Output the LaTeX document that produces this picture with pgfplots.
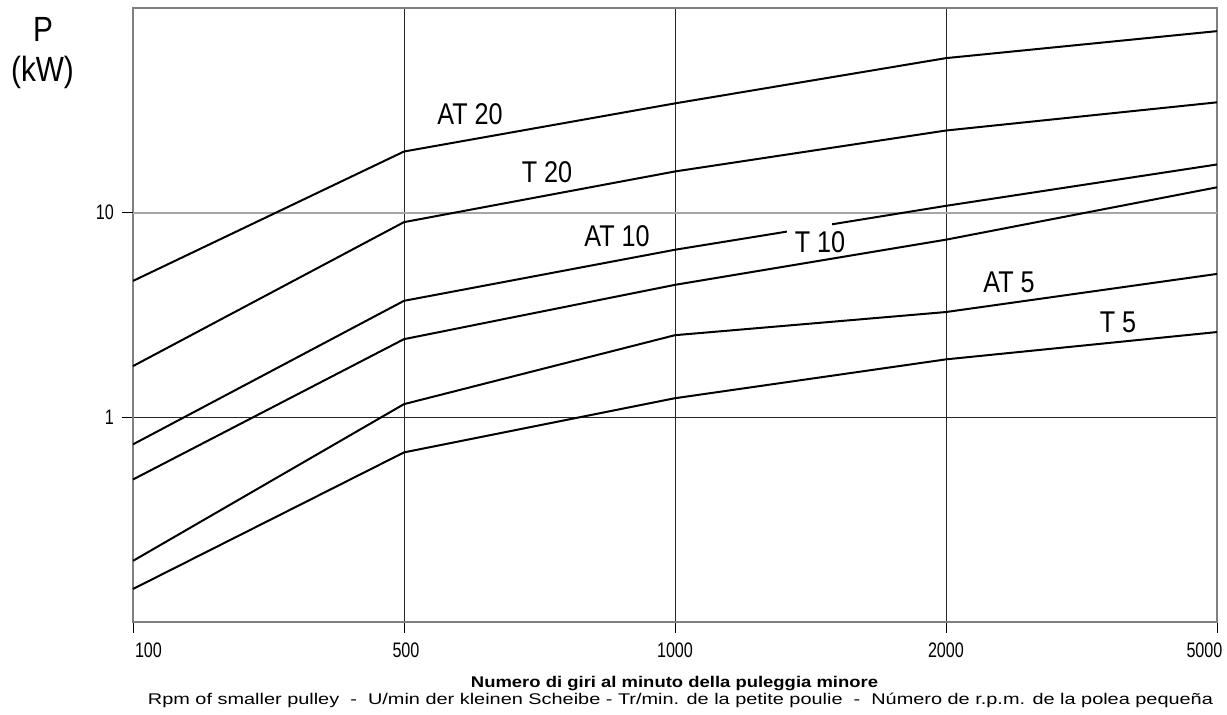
\documentclass[border=0pt]{standalone}
\usepackage{fontspec}
\setmainfont{Liberation Sans}
\usepackage{graphicx}
\usepackage{pgfplots}
\pgfplotsset{compat=1.18}
\newcommand\nar[1]{\scalebox{0.77}[1]{\fontsize{21}{21}\selectfont #1}}
\newcommand\lab[1]{\scalebox{0.84}[1]{\fontsize{30}{30}\selectfont #1}}
\begin{document}
\begin{tikzpicture}[x=1pt,y=1pt]
\useasboundingbox (-133,-93) rectangle (1094,622);
\begin{axis}[
  at={(0,0)}, anchor=south west,
  width=1084pt, height=614pt, scale only axis,
  xmin=0, xmax=4, ymin=0.1, ymax=100, ymode=log,
  xtick={0,1,2,3,4}, xticklabels={},
  ytick={1}, yticklabels={},
  extra y ticks={10}, extra y tick labels={},
  extra y tick style={grid style={gray!70, line width=2pt}},
  yminorticks=false, xminorticks=false,
  grid=major, grid style={black!85, line width=0.8pt},
  tick align=outside, major tick length=11pt,
  tick style={black, line width=0.8pt},
  tick pos=left,
  axis line style={gray, line width=1.5pt},
  clip=false,
]
\addplot[black, solid, line width=2pt, mark=none] coordinates {(0,4.64) (1,19.9) (2,34.2) (3,56.9) (4,77.1)};
\addplot[black, solid, line width=2pt, mark=none] coordinates {(0,1.78) (1,8.99) (2,15.9) (3,25.2) (4,34.6)};
\addplot[black, solid, line width=2pt, mark=none] coordinates {(0,0.738) (1,3.71) (2,6.59) (3,10.8) (4,17.2)};
\addplot[black, solid, line width=2pt, mark=none] coordinates {(0,0.497) (1,2.41) (2,4.44) (3,7.38) (4,13.3)};
\addplot[black, solid, line width=2pt, mark=none] coordinates {(0,0.199) (1,1.16) (2,2.52) (3,3.27) (4,5.02)};
\addplot[black, solid, line width=2pt, mark=none] coordinates {(0,0.145) (1,0.674) (2,1.24) (3,1.92) (4,2.61)};
\node[anchor=north, inner sep=0pt, xshift=15.5pt, yshift=-21pt] at (axis cs:0,0.1) {\nar{100}};
\node[anchor=north, inner sep=0pt, xshift=2pt, yshift=-21pt] at (axis cs:1,0.1) {\nar{500}};
\node[anchor=north, inner sep=0pt, yshift=-21pt] at (axis cs:2,0.1) {\nar{1000}};
\node[anchor=north, inner sep=0pt, yshift=-21pt] at (axis cs:3,0.1) {\nar{2000}};
\node[anchor=north, inner sep=0pt, xshift=-12.5pt, yshift=-21pt] at (axis cs:4,0.1) {\nar{5000}};
\node[anchor=east, inner sep=0pt, xshift=-19pt] at (axis cs:0,1) {\nar{1}};
\node[anchor=east, inner sep=0pt, xshift=-19pt] at (axis cs:0,10) {\nar{10}};
\end{axis}
\fill[white] (654,386) rectangle (699,402);
\node[anchor=base, inner sep=0pt] at (337,497) {\lab{AT 20}};
\node[anchor=base, inner sep=0pt] at (414,439) {\lab{T 20}};
\node[anchor=base, inner sep=0pt] at (484,375) {\lab{AT 10}};
\node[anchor=base, inner sep=0pt] at (687,369) {\lab{T 10}};
\node[anchor=base, inner sep=0pt] at (876,329) {\lab{AT 5}};
\node[anchor=base, inner sep=0pt] at (985,289) {\lab{T 5}};
\node[anchor=base, inner sep=0pt] at (-90,580) {\scalebox{0.85}[1]{\fontsize{35}{35}\selectfont P}};
\node[anchor=base, inner sep=0pt] at (-90.5,540) {\scalebox{0.85}[1]{\fontsize{35}{35}\selectfont (kW)}};
\node[anchor=base, inner sep=0pt] at (541.5,-65.5) {\resizebox{407pt}{\height}{\fontsize{15.5}{15.5}\selectfont\bfseries Numero di giri al minuto della puleggia minore}};
\node[anchor=base, inner sep=0pt] at (547.5,-83) {\resizebox{1065pt}{\height}{\fontsize{15.5}{15.5}\selectfont Rpm of smaller pulley~~-~~U/min der kleinen Scheibe - Tr/min. de la petite poulie~~-~~Número de r.p.m. de la polea pequeña}};
\end{tikzpicture}
\end{document}
